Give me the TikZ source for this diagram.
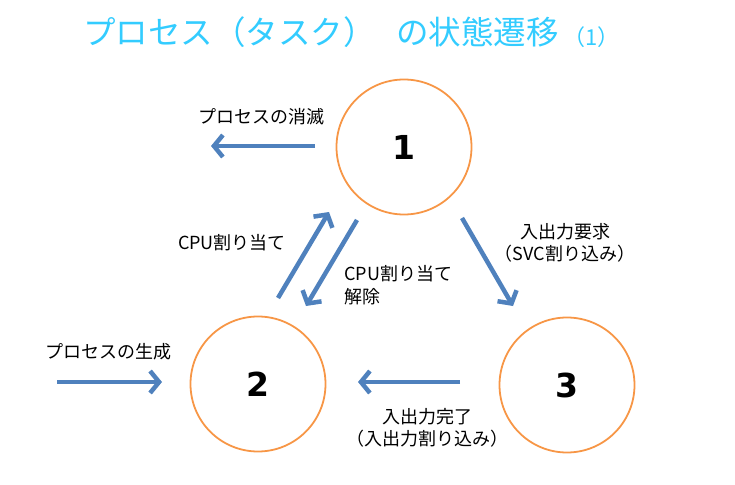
\documentclass[tikz,border=0pt]{standalone}
\usepackage{fontspec}
\setmainfont{Noto Sans CJK JP}
\newfontfamily\numfont{DejaVu Sans}
\usetikzlibrary{arrows.meta}
\definecolor{ttl}{RGB}{51,204,255}
\definecolor{arr}{RGB}{79,129,189}
\definecolor{org}{RGB}{247,150,70}
\tikzset{
  state/.style={circle, draw=org, line width=1.8pt, minimum size=135pt, inner sep=0pt, font=\numfont\bfseries\fontsize{33}{33}\selectfont},
  flow/.style={draw=arr, line width=4.5pt, -{Straight Barb[length=9pt, width=22pt, line width=4.5pt]}},
  lbl/.style={font=\fontsize{18}{22.5}\selectfont, inner sep=0pt, align=center},
  ttlstyle/.style={anchor=west, inner sep=0pt, text=ttl, font=\fontsize{32.5}{32.5}\selectfont},
}
\begin{document}
\begin{tikzpicture}[x=1pt,y=-1pt]
\useasboundingbox (0,0) rectangle (735,484);
\node[ttlstyle] (title) at (83,32) {プロセス（タスク）};
\node[ttlstyle] (title2) at (396,32) {の状態遷移};
\node[ttlstyle, font=\fontsize{22}{22}\selectfont] (titlenum) at (563,37) {（1）};

\node[state] (s1) at (404,147) {1};
\node[state] (s2) at (258,384) {2};
\node[state] (s3) at (567,385) {3};

\coordinate (k1) at (315,146); \coordinate (k2) at (211,146);
\coordinate (c1) at (57,382); \coordinate (c2) at (162,382);
\coordinate (a1) at (278,298); \coordinate (a2) at (329,212);
\coordinate (r1) at (357,220); \coordinate (r2) at (306,306);
\coordinate (q1) at (462,218); \coordinate (q2) at (513,306);
\coordinate (d1) at (460,382); \coordinate (d2) at (358,382);

\draw[flow] (k1) -- (k2);
\draw[flow] (c1) -- (c2);
\draw[flow] (a1) -- (a2);
\draw[flow] (r1) -- (r2);
\draw[flow] (q1) -- (q2);
\draw[flow] (d1) -- (d2);

\node[lbl] (lk) at (261,117) {プロセスの消滅};
\node[lbl] (lc) at (108,352) {プロセスの生成};
\node[lbl] (la) at (232,243) {CPU割り当て};
\node[lbl, align=left, anchor=west] (lr) at (344,285) {CPU割り当て\\解除};
\node[lbl] (lq) at (565,243) {入出力要求\\（SVC割り込み）};
\node[lbl] (ld) at (427,428) {入出力完了\\（入出力割り込み）};
\end{tikzpicture}
\end{document}
